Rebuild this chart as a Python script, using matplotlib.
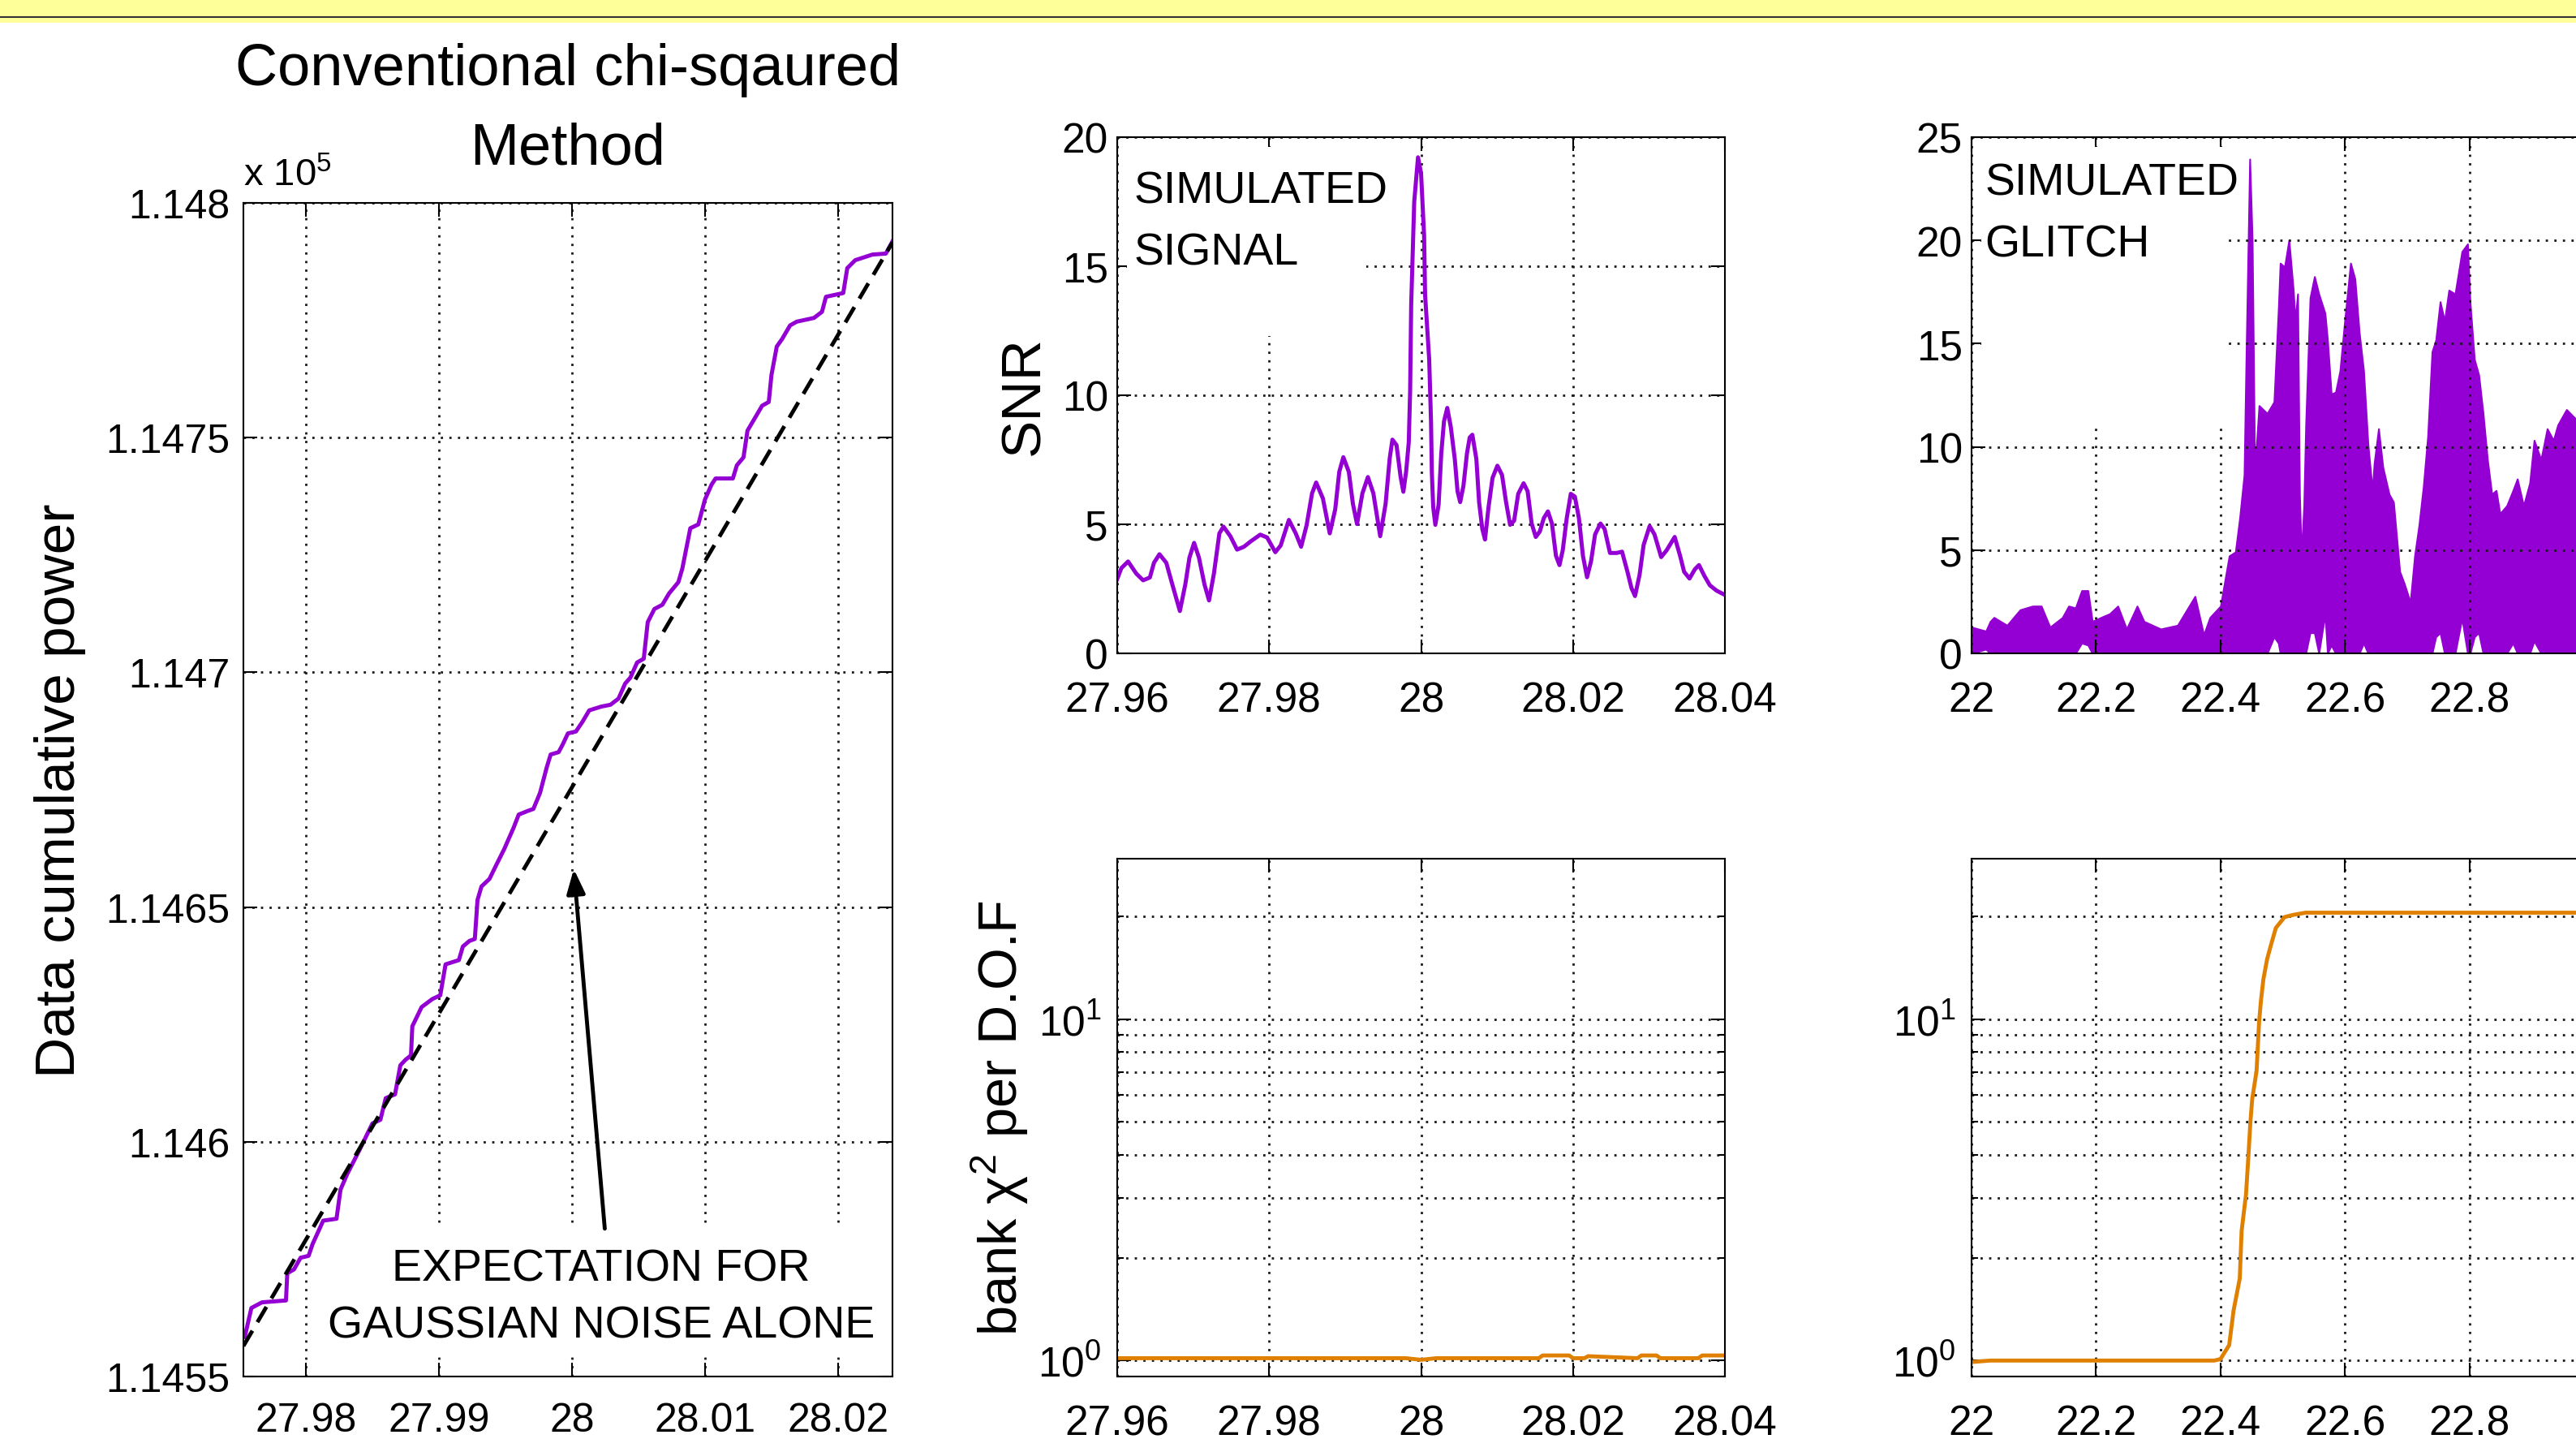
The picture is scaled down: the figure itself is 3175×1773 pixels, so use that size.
import numpy as np
import matplotlib
matplotlib.use('Agg')
from matplotlib import pyplot as plt
from matplotlib.patches import Rectangle
from matplotlib.lines import Line2D
from matplotlib.ticker import FuncFormatter, FixedLocator

plt.rcParams['font.family'] = ['Liberation Sans', 'DejaVu Sans']
plt.rcParams['mathtext.fontset'] = 'custom'
plt.rcParams['mathtext.rm'] = 'Liberation Sans'
plt.rcParams['mathtext.it'] = 'Liberation Sans:italic'
plt.rcParams['mathtext.default'] = 'regular'

PURPLE = '#9400D3'
ORANGE = '#E08000'

# ---- left panel: cumulative power ----
cum_x = [27.9754, 27.9759, 27.9767, 27.9785, 27.9786, 27.9791, 27.9796, 27.9802, 27.9805,
         27.9809, 27.9813, 27.9823, 27.9826, 27.9831, 27.9840, 27.9850, 27.9856, 27.9860,
         27.9867, 27.9871, 27.9875, 27.9879, 27.9880, 27.9887, 27.9895, 27.9901, 27.9905,
         27.9915, 27.9918, 27.9923, 27.9927, 27.9929, 27.9932, 27.9938, 27.9943, 27.9949,
         27.9956, 27.9960, 27.9967, 27.9971, 27.9976, 27.9981, 27.9984, 27.9990, 27.9993,
         27.9997, 28.0003, 28.0008, 28.0013, 28.0022, 28.0029, 28.0035, 28.0040, 28.0044,
         28.0049, 28.0054, 28.0057, 28.0062, 28.0068, 28.0073, 28.0080, 28.0083, 28.0089,
         28.0095, 28.0100, 28.0105, 28.0108, 28.0121, 28.0124, 28.0129, 28.0132, 28.0137,
         28.0143, 28.0148, 28.0150, 28.0154, 28.0158, 28.0164, 28.0169, 28.0182, 28.0188,
         28.0191, 28.0204, 28.0207, 28.0213, 28.0226, 28.0236, 28.0241]
cum_y = [114558.4, 114564.6, 114565.8, 114566.2, 114572.0, 114572.8, 114575.3, 114575.7, 114578.2,
         114580.7, 114583.2, 114583.6, 114589.8, 114593.1, 114598.1, 114603.9, 114604.7, 114609.3,
         114610.1, 114616.3, 114617.5, 114618.4, 114624.6, 114628.7, 114630.4, 114631.2, 114637.8,
         114638.7, 114641.6, 114642.8, 114643.2, 114651.5, 114654.4, 114656.0, 114658.9, 114662.3,
         114666.8, 114669.7, 114670.5, 114670.9, 114674.3, 114679.7, 114682.5, 114683.0, 114684.6,
         114687.0, 114687.4, 114689.5, 114691.9, 114692.7, 114693.1, 114694.4, 114697.6, 114698.9,
         114702.1, 114702.9, 114710.7, 114713.5, 114714.4, 114716.8, 114719.2, 114722.1, 114730.7,
         114731.5, 114736.8, 114740.0, 114741.3, 114741.3, 114744.1, 114745.8, 114751.5, 114753.9,
         114756.8, 114757.6, 114763.3, 114769.4, 114771.0, 114773.9, 114774.7, 114775.5, 114776.8,
         114780.0, 114780.8, 114786.1, 114787.8, 114789.0, 114789.2, 114791.8]
expect_x = [27.9753, 28.0241]
expect_y = [114556.5, 114791.6]
arrow_tail = (28.00247, 114581.5)
arrow_head = (28.00014, 114658.1)

# ---- simulated signal: SNR ----
snr_x = [27.96000, 27.96054, 27.96143, 27.96251, 27.96341, 27.96430, 27.96484, 27.96556, 27.96646,
         27.96735, 27.96825, 27.96897, 27.96951, 27.97012, 27.97076, 27.97148, 27.97209, 27.97273,
         27.97345, 27.97399, 27.97489, 27.97578, 27.97668, 27.97758, 27.97883, 27.97973, 27.98081,
         27.98152, 27.98260, 27.98350, 27.98421, 27.98493, 27.98565, 27.98619, 27.98708, 27.98798,
         27.98870, 27.98923, 27.98977, 27.99049, 27.99103, 27.99157, 27.99228, 27.99300, 27.99372,
         27.99462, 27.99533, 27.99587, 27.99623, 27.99677, 27.99731, 27.99767, 27.99803, 27.99838,
         27.99856, 27.99870, 27.99910, 27.99960, 28.00000, 28.00040, 28.00053, 28.00107, 28.00131,
         28.00142, 28.00160, 28.00188, 28.00231, 28.00266, 28.00302, 28.00345, 28.00391, 28.00444,
         28.00480, 28.00515, 28.00558, 28.00604, 28.00640, 28.00675, 28.00728, 28.00764, 28.00806,
         28.00842, 28.00888, 28.00941, 28.01005, 28.01066, 28.01119, 28.01172, 28.01225, 28.01279,
         28.01350, 28.01403, 28.01456, 28.01510, 28.01563, 28.01616, 28.01670, 28.01723, 28.01776,
         28.01822, 28.01865, 28.01918, 28.01971, 28.02025, 28.02078, 28.02131, 28.02185, 28.02238,
         28.02291, 28.02362, 28.02416, 28.02487, 28.02576, 28.02646, 28.02717, 28.02770, 28.02817,
         28.02877, 28.02930, 28.03009, 28.03073, 28.03161, 28.03232, 28.03339, 28.03410, 28.03463,
         28.03534, 28.03605, 28.03659, 28.03730, 28.03801, 28.03890, 28.03996]
snr_y = [2.88, 3.30, 3.56, 3.09, 2.83, 2.94, 3.51, 3.84, 3.51,
         2.57, 1.64, 2.68, 3.71, 4.28, 3.71, 2.68, 2.05, 3.09,
         4.65, 4.91, 4.54, 4.02, 4.13, 4.34, 4.60, 4.49, 3.92,
         4.18, 5.17, 4.65, 4.13, 4.96, 6.20, 6.62, 6.00, 4.65,
         5.58, 7.03, 7.60, 7.03, 5.79, 5.01, 6.20, 6.83, 6.20,
         4.54, 5.79, 7.55, 8.28, 8.07, 6.83, 6.26, 7.03, 8.17,
         10.15, 13.5, 17.5, 19.22, 18.6, 16.2, 13.9, 11.39, 8.99,
         7.01, 5.66, 4.98, 5.76, 7.74, 8.99, 9.51, 8.78, 7.53,
         6.28, 5.86, 6.49, 7.74, 8.36, 8.47, 7.53, 5.86, 4.82,
         4.41, 5.66, 6.80, 7.27, 6.91, 5.86, 4.98, 5.14, 6.18,
         6.59, 6.28, 5.03, 4.51, 4.72, 5.24, 5.50, 5.03, 3.78,
         3.42, 3.99, 5.24, 6.18, 6.07, 5.24, 3.78, 2.95, 3.57,
         4.61, 5.03, 4.82, 3.89, 3.89, 3.94, 3.16, 2.53, 2.22,
         3.05, 4.20, 4.93, 4.61, 3.73, 3.99, 4.51, 3.78, 3.16,
         2.90, 3.26, 3.42, 3.00, 2.64, 2.43, 2.27]

chi_sig_x = [27.96, 27.97, 27.98, 27.99, 27.998, 28.0, 28.002, 28.01, 28.0155, 28.016, 28.0195,
             28.02, 28.0215, 28.022, 28.0285, 28.029, 28.031, 28.0315, 28.0365, 28.037, 28.04]
chi_sig_y = [1.016, 1.016, 1.016, 1.016, 1.016, 1.005, 1.016, 1.016, 1.016, 1.035, 1.035,
             1.016, 1.016, 1.03, 1.016, 1.035, 1.035, 1.016, 1.016, 1.035, 1.035]

# ---- simulated glitch: SNR envelope ----
gl_x = [22.000, 22.023, 22.030, 22.036, 22.057, 22.078, 22.098, 22.112, 22.126, 22.146,
        22.156, 22.167, 22.177, 22.187, 22.194, 22.208, 22.222, 22.235, 22.249, 22.266,
        22.277, 22.304, 22.331, 22.359, 22.373, 22.383, 22.400, 22.414, 22.424, 22.431,
        22.438, 22.441, 22.447, 22.451, 22.455, 22.462, 22.475, 22.486, 22.493, 22.496,
        22.503, 22.510, 22.517, 22.520, 22.524, 22.527, 22.530, 22.534, 22.537, 22.544,
        22.551, 22.558, 22.568, 22.572, 22.578, 22.585, 22.592, 22.599, 22.609, 22.616,
        22.623, 22.630, 22.637, 22.644, 22.647, 22.654, 22.661, 22.671, 22.678, 22.688,
        22.695, 22.705, 22.712, 22.719, 22.726, 22.733, 22.740, 22.746, 22.753, 22.760,
        22.767, 22.777, 22.788, 22.797, 22.801, 22.808, 22.815, 22.822, 22.829, 22.836,
        22.843, 22.849, 22.860, 22.870, 22.877, 22.887, 22.897, 22.904, 22.915, 22.925,
        22.935, 22.942, 22.956, 22.968, 22.985, 23.000]
gl_hi = [1.27, 1.08, 1.55, 1.74, 1.36, 2.11, 2.29, 2.29, 1.27, 1.74,
         2.29, 2.20, 3.04, 3.04, 1.55, 1.74, 1.92, 2.29, 1.18, 2.29,
         1.55, 1.18, 1.36, 2.76, 0.90, 1.74, 2.29, 4.72, 4.91, 6.59,
         8.64, 14.05, 23.94, 20.02, 8.82, 12.00, 11.62, 12.18, 16.66, 18.90,
         18.71, 20.02, 17.59, 16.10, 17.41, 7.71, 4.72, 7.15, 11.06, 17.22,
         18.25, 17.41, 16.47, 15.17, 12.56, 12.65, 13.68, 15.91, 18.90, 18.15,
         15.54, 13.68, 10.13, 7.89, 9.20, 10.88, 9.01, 7.71, 7.33, 3.97,
         3.41, 2.48, 4.72, 6.21, 8.08, 10.50, 14.61, 15.17, 17.03, 16.10,
         17.59, 17.41, 19.46, 19.83, 17.03, 14.24, 13.49, 11.62, 9.38, 7.71,
         7.89, 6.77, 7.15, 7.89, 8.45, 7.15, 8.26, 10.32, 9.38, 10.88,
         10.32, 11.06, 11.81, 11.44, 11.0, 10.5]
gl_lo = [0, 0.2, 0, 0, 0, 0, 0, 0, 0, 0,
         0, 0, 0.5, 0.4, 0, 0, 0, 0, 0, 0,
         0, 0, 0, 0, 0, 0, 0, 0, 0, 0,
         0, 0, 0, 0, 0, 0, 0, 0.8, 0.5, 0,
         0, 0, 0, 0, 0, 0, 0, 0, 0, 1.0,
         1.0, 0, 1.9, 0, 0.4, 0, 0, 0, 0, 0,
         0, 0.5, 0, 0, 0, 0, 0, 0, 0, 0,
         0, 0, 0, 0, 0, 0, 0, 0.8, 1.0, 0,
         0, 0, 1.7, 0, 0, 0.8, 1.0, 0, 0, 0,
         0, 0, 0, 0.5, 0, 0, 0, 0.6, 0, 0,
         0, 0, 0, 0, 0, 0]

chi_gl_x = [22.0, 22.03, 22.39, 22.400, 22.414, 22.421, 22.431, 22.434, 22.441, 22.445, 22.448,
            22.451, 22.458, 22.462, 22.465, 22.469, 22.475, 22.482, 22.489, 22.503, 22.517,
            22.537, 22.6, 22.8, 23.0]
chi_gl_y = [0.99, 1.0, 1.0, 1.01, 1.11, 1.40, 1.74, 2.40, 3.06, 4.0, 4.97,
            5.83, 7.05, 9.77, 11.3, 13.1, 15.0, 16.7, 18.5, 19.9, 20.2,
            20.5, 20.5, 20.5, 20.5]

W, H = 3175, 1774
fig = plt.figure(figsize=(W / 100, H / 100), dpi=100)

# yellow band at the top
fig.patches.append(Rectangle((0, 1 - 29 / H), 1, 29 / H, transform=fig.transFigure,
                             facecolor='#FFFF99', edgecolor='none'))
fig.lines.append(Line2D([0, 1], [1 - 21.5 / H, 1 - 21.5 / H], transform=fig.transFigure,
                        color='0.2', lw=1.5))


def px_axes(left, top, right, bottom):
    return fig.add_axes([left / W, 1 - bottom / H, (right - left) / W, (bottom - top) / H])


def style(ax, labelsize=36, xpad=22, ypad=8):
    ax.tick_params(which='both', direction='in', top=True, right=True,
                   width=1.5, labelsize=labelsize)
    ax.tick_params(which='major', length=12)
    ax.tick_params(which='minor', length=6)
    ax.tick_params(axis='x', pad=xpad)
    ax.tick_params(axis='y', pad=ypad)
    for s in ax.spines.values():
        s.set_linewidth(1.5)
    ax.grid(True, which='major', color='0.1', lw=2, linestyle=(0, (1, 2.8)))


def blank(ax, x0, y0, x1, y1):
    # white box behind a label, hides the grid like the original text boxes
    ax.add_patch(Rectangle((x0, y0), x1 - x0, y1 - y0, transform=ax.transAxes,
                           facecolor='white', edgecolor='none', zorder=1.7))


gfmt = FuncFormatter(lambda v, p: '%g' % v)

# left panel
ax1 = px_axes(300, 251, 1100, 1697)
ax1.plot(cum_x, cum_y, color=PURPLE, lw=3.6)
ax1.plot(expect_x, expect_y, color='k', lw=3.5, linestyle=(0, (4.5, 2.5)))
ax1.set_xlim(27.9753, 28.0241)
ax1.set_ylim(114550, 114800)
ax1.xaxis.set_major_locator(FixedLocator([27.98, 27.99, 28.0, 28.01, 28.02]))
ax1.yaxis.set_major_locator(FixedLocator(np.arange(114550, 114801, 50)))
ax1.xaxis.set_major_formatter(gfmt)
ax1.yaxis.set_major_formatter(FuncFormatter(lambda v, p: '%g' % (v / 1e5)))
style(ax1, labelsize=36, xpad=22, ypad=12)
ax1.text(0.5, 1.101, 'Conventional chi-sqaured', transform=ax1.transAxes, fontsize=52,
         ha='center', va='baseline')
ax1.text(0.5, 1.0335, 'Method', transform=ax1.transAxes, fontsize=52,
         ha='center', va='baseline')
ax1.text(0.0, 1.008, r'x 10$^{5}$', transform=ax1.transAxes, fontsize=34,
         ha='left', va='bottom')
ax1.set_ylabel('Data cumulative power', fontsize=50)
ax1.yaxis.set_label_coords(-0.243, 0.5)
blank(ax1, 0.13, 0.017, 0.985, 0.129)
ax1.text(28.0022, 114566.8, 'EXPECTATION FOR\nGAUSSIAN NOISE ALONE', fontsize=40,
         ha='center', va='center', linespacing=1.45, zorder=3)
ax1.annotate('', xy=arrow_head, xytext=arrow_tail,
             arrowprops=dict(arrowstyle='-|>,head_length=0.45,head_width=0.17', color='k',
                             lw=3.5, mutation_scale=40, shrinkA=0, shrinkB=0))

# simulated signal SNR
ax2 = px_axes(1377, 170, 2126, 806)
ax2.plot(snr_x, snr_y, color=PURPLE, lw=3.6)
ax2.set_xlim(27.96, 28.04)
ax2.set_ylim(0, 20)
ax2.xaxis.set_major_locator(FixedLocator([27.96, 27.98, 28.0, 28.02, 28.04]))
ax2.yaxis.set_major_locator(FixedLocator([0, 5, 10, 15, 20]))
ax2.xaxis.set_major_formatter(gfmt)
ax2.yaxis.set_major_formatter(gfmt)
style(ax2, labelsize=37, xpad=24, ypad=8)
ax2.set_ylabel('SNR', fontsize=50)
ax2.yaxis.set_label_coords(-0.110, 0.5)
blank(ax2, 0.016, 0.615, 0.41, 0.981)
ax2.text(0.027, 0.836, 'SIMULATED\nSIGNAL', transform=ax2.transAxes, fontsize=40,
         ha='left', va='center', linespacing=1.6, zorder=3)

# simulated signal chi2
ax3 = px_axes(1377, 1059, 2126, 1697)
ax3.plot(chi_sig_x, chi_sig_y, color=ORANGE, lw=3.5)
ax3.set_yscale('log')
ax3.set_xlim(27.96, 28.04)
ax3.set_ylim(0.898, 29.5)
ax3.xaxis.set_major_locator(FixedLocator([27.96, 27.98, 28.0, 28.02, 28.04]))
ax3.xaxis.set_major_formatter(gfmt)
style(ax3, labelsize=37, xpad=24, ypad=14)
ax3.yaxis.grid(True, which='minor', color='0.1', lw=2, linestyle=(0, (1, 2.8)))
ax3.set_ylabel(r'bank $\chi^2$ per D.O.F', fontsize=48)
ax3.yaxis.set_label_coords(-0.143, 0.5)

# simulated glitch SNR (dense trace drawn as its envelope)
ax4 = px_axes(2430, 170, 3197, 806)
ax4.fill_between(gl_x, gl_lo, gl_hi, color=PURPLE, lw=1.5, edgecolor=PURPLE)
ax4.set_xlim(22, 23)
ax4.set_ylim(0, 25)
ax4.xaxis.set_major_locator(FixedLocator([22, 22.2, 22.4, 22.6, 22.8]))
ax4.yaxis.set_major_locator(FixedLocator([0, 5, 10, 15, 20, 25]))
ax4.xaxis.set_major_formatter(gfmt)
ax4.yaxis.set_major_formatter(gfmt)
style(ax4, labelsize=37, xpad=24, ypad=8)
blank(ax4, 0.016, 0.435, 0.407, 0.981)
ax4.text(0.021, 0.851, 'SIMULATED\nGLITCH', transform=ax4.transAxes, fontsize=40,
         ha='left', va='center', linespacing=1.6, zorder=3)

# simulated glitch chi2
ax5 = px_axes(2430, 1059, 3197, 1697)
ax5.plot(chi_gl_x, chi_gl_y, color=ORANGE, lw=3.5)
ax5.set_yscale('log')
ax5.set_xlim(22, 23)
ax5.set_ylim(0.898, 29.5)
ax5.xaxis.set_major_locator(FixedLocator([22, 22.2, 22.4, 22.6, 22.8]))
ax5.xaxis.set_major_formatter(gfmt)
style(ax5, labelsize=37, xpad=24, ypad=14)
ax5.yaxis.grid(True, which='minor', color='0.1', lw=2, linestyle=(0, (1, 2.8)))

fig.savefig('out.png', dpi=100)
